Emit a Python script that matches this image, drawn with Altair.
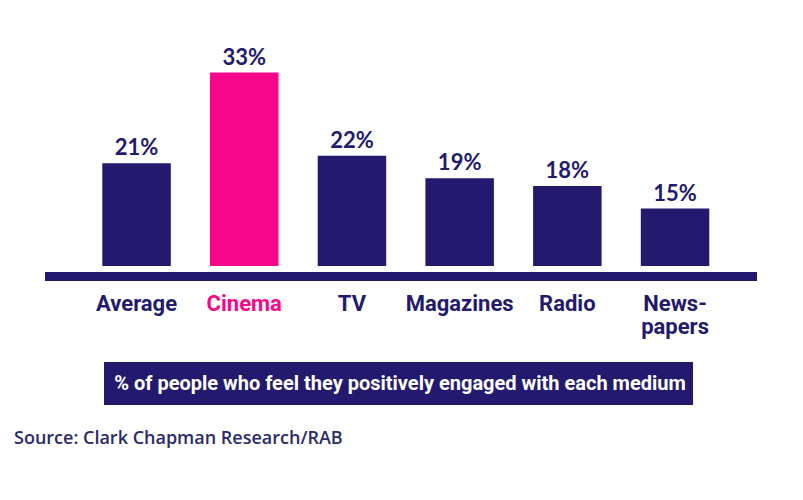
import altair as alt
import pandas as pd

categories = ["Average", "Cinema", "TV", "Magazines", "Radio", "Newspapers"]
display_labels = ["Average", "Cinema", "TV", "Magazines", "Radio", "News-\npapers"]
values = [21, 33, 22, 19, 18, 15]
value_labels = ["21%", "33%", "22%", "19%", "18%", "15%"]
bar_colors = ["#231a70", "#f7078c", "#231a70", "#231a70", "#231a70", "#231a70"]

caption = "% of people who feel they positively engaged with each medium"
source = "Source: Clark Chapman Research/RAB"

NAVY = "#231a70"
BASE = 7.4
COND = "Roboto, sans-serif"

df = pd.DataFrame({
    "category": categories,
    "display": display_labels,
    "value": values,
    "label": value_labels,
})

x = alt.X("category:N", sort=categories, axis=None,
          scale=alt.Scale(range=[102.3, 709.3], paddingInner=0.364, paddingOuter=0))
color = alt.Color("category:N", scale=alt.Scale(domain=categories, range=bar_colors), legend=None)
yscale = alt.Scale(domain=[BASE, 42.6], range=[266, 0])

base = alt.Chart(df)

bars = base.mark_bar().encode(
    x=x,
    y=alt.Y("value:Q", scale=yscale, axis=None),
    y2=alt.datum(BASE),
    color=color,
)

vlabels = base.mark_text(baseline="alphabetic", dy=-8, font="Lato", fontWeight="bold",
                         fontSize=22, color=NAVY).encode(
    x=x,
    y=alt.Y("value:Q", scale=yscale, axis=None),
    text="label:N",
)

clabels = base.mark_text(baseline="alphabetic", align="center", lineBreak="\n", lineHeight=23,
                         font=COND, fontWeight="bold", fontSize=22).encode(
    x=x,
    y=alt.value(311),
    text="display:N",
    color=color,
)

one = alt.Chart(pd.DataFrame({"caption": [caption], "source": [source]}))

baseline_rule = one.mark_rule(color=NAVY, strokeWidth=9).encode(
    x=alt.value(45), x2=alt.value(757), y=alt.value(276.5)
)

box = one.mark_rect(color=NAVY).encode(
    x=alt.value(104), x2=alt.value(693), y=alt.value(362), y2=alt.value(405)
)

box_text = one.mark_text(color="white", align="center", baseline="middle",
                         font=COND, fontWeight="bold", fontSize=20).encode(
    x=alt.value(400), y=alt.value(384), text="caption:N"
)

src_text = one.mark_text(color="#2b2a6b", align="left", baseline="alphabetic",
                         font="Open Sans", fontWeight=600, fontSize=18).encode(
    x=alt.value(14), y=alt.value(444), text="source:N"
)

chart = alt.layer(bars, vlabels, clabels, baseline_rule, box, box_text, src_text).properties(
    width=803, height=500, autosize=alt.AutoSizeParams(type="none"), padding=0,
    background="white",
).configure_view(stroke=None)

chart.save("out.html", embed_options={"renderer": "svg", "actions": False})
